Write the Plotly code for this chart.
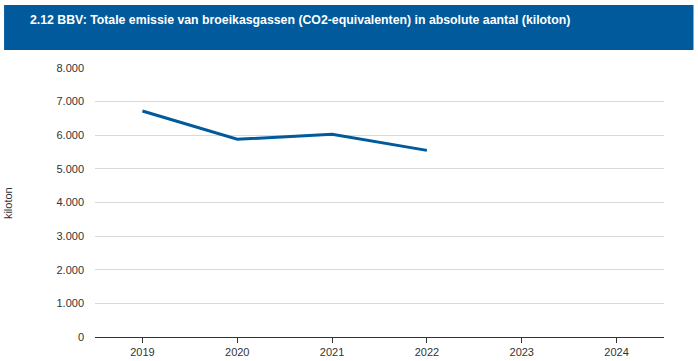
import plotly.graph_objects as go

years = ["2019", "2020", "2021", "2022", "2023", "2024"]
emissions = [6720, 5880, 6030, 5550, None, None]
y_ticks = [0, 1000, 2000, 3000, 4000, 5000, 6000, 7000, 8000]
y_tick_labels = ["0", "1.000", "2.000", "3.000", "4.000", "5.000", "6.000", "7.000", "8.000"]
title_text = "2.12 BBV: Totale emissie van broeikasgassen (CO2-equivalenten) in absolute aantal (kiloton)"
y_title = "kiloton"

W, H = 698, 361
L, R, T, B = 95, 33.5, 68, 24
pw, ph = W - L - R, H - T - B

def px(x):
    return (x - L) / pw

def py(y):
    return (H - B - y) / ph

fig = go.Figure()
fig.add_trace(go.Scatter(
    x=years, y=emissions, mode="lines",
    line=dict(color="#005a9c", width=3),
    connectgaps=False, hoverinfo="x+y",
))

fig.update_layout(
    width=W, height=H,
    margin=dict(l=L, r=R, t=T, b=B, pad=0, autoexpand=False),
    paper_bgcolor="white", plot_bgcolor="white",
    showlegend=False,
    font=dict(family="Liberation Sans, Arial, sans-serif", size=11, color="#333333"),
    title=dict(
        text="<b>" + title_text + "</b>",
        x=30 / W, y=1 - 20 / H, xref="container", yref="container",
        xanchor="left", yanchor="middle",
        font=dict(family="Liberation Sans, Arial, sans-serif", size=12.3, color="white"),
    ),
    shapes=[dict(
        type="rect", xref="paper", yref="paper",
        x0=px(4), x1=px(694), y0=py(50), y1=py(5),
        fillcolor="#005a9c", line=dict(width=0), layer="below",
    )],
    annotations=[dict(
        text=y_title, xref="paper", yref="paper", x=px(8), y=py(203),
        xanchor="center", yanchor="middle", textangle=-90, showarrow=False,
        font=dict(size=11, color="#333333"),
    )],
    xaxis=dict(
        type="category", range=[-0.5, 5.5], categoryorder="array", categoryarray=years,
        showgrid=False, showline=True, linecolor="#333333", linewidth=1,
        ticks="outside", ticklen=5, tickcolor="#333333", tickwidth=1,
        tickfont=dict(size=11, color="#333333"), zeroline=False, fixedrange=True,
        automargin=False,
    ),
    yaxis=dict(
        range=[0, 8000], tickvals=y_ticks, ticktext=y_tick_labels,
        showgrid=True, gridcolor="#d9d9d9", gridwidth=1, zeroline=False,
        showline=False, ticks="", ticklabelstandoff=10,
        tickfont=dict(size=11, color="#333333"),
        fixedrange=True, automargin=False,
    ),
)

fig.write_html(
    "out.html",
    config={"displayModeBar": False},
    post_script="document.body.style.margin='0px';document.body.style.overflow='hidden';",
)
